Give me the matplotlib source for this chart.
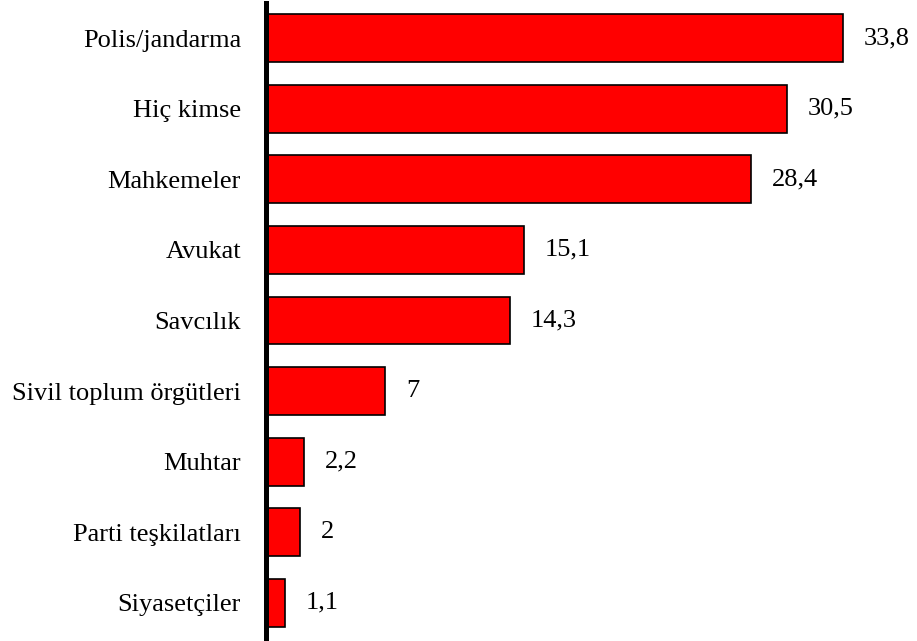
import matplotlib.pyplot as plt

labels = ['Polis/jandarma', 'Hiç kimse', 'Mahkemeler', 'Avukat', 'Savcılık',
          'Sivil toplum örgütleri', 'Muhtar', 'Parti teşkilatları', 'Siyasetçiler']
values = [33.8, 30.5, 28.4, 15.1, 14.3, 7, 2.2, 2, 1.1]
value_text = ['33,8', '30,5', '28,4', '15,1', '14,3', '7', '2,2', '2', '1,1']

plt.rcParams['font.family'] = ['Liberation Serif', 'DejaVu Serif']

fig = plt.figure(figsize=(9.17, 6.41), dpi=100)
ax = fig.add_axes([266 / 917, 3 / 641, (906 - 266) / 917, 635 / 641])

ypos = list(range(len(labels)))
ax.barh(ypos, values, height=0.68, color='#ff0000', edgecolor='black', linewidth=1.2)

for y, v, t in zip(ypos, values, value_text):
    ax.annotate(t, (v, y), xytext=(15, 0), textcoords='offset points',
                va='center', ha='left', fontsize=19)

ax.set_xlim(0, 37.5)
ax.set_ylim(8.5, -0.5)
ax.set_yticks(ypos)
ax.set_yticklabels(labels, fontsize=19)
ax.set_xticks([])
ax.tick_params(axis='y', length=0, pad=18)
for side in ['top', 'right', 'bottom']:
    ax.spines[side].set_visible(False)
ax.spines['left'].set_linewidth(3.6)
ax.spines['left'].set_zorder(5)

fig.savefig('out.png', dpi=100)
